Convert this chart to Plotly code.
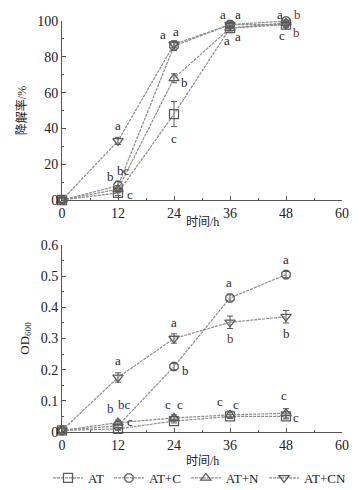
import plotly.graph_objects as go

hours = [0, 12, 24, 36, 48]
series = ["AT", "AT+C", "AT+N", "AT+CN"]
symbols = ["square-open", "octagon-open", "triangle-up-open", "triangle-down-open"]

# degradation rate (%)
deg = {
    "AT":    [0, 4, 48, 96, 98],
    "AT+C":  [0, 8, 86, 98, 100],
    "AT+N":  [0, 6, 68, 96, 99],
    "AT+CN": [0, 33, 87, 98, 98],
}
deg_err = {
    "AT":    [0.5, 1.5, 7, 1.5, 1.5],
    "AT+C":  [0.5, 2.5, 2.5, 1.5, 1.5],
    "AT+N":  [0.5, 2, 2.5, 1.5, 1.5],
    "AT+CN": [0.5, 2, 2, 1.5, 1.5],
}
# OD600
od = {
    "AT":    [0.005, 0.01, 0.035, 0.05, 0.05],
    "AT+C":  [0.005, 0.02, 0.21, 0.43, 0.505],
    "AT+N":  [0.005, 0.03, 0.045, 0.055, 0.06],
    "AT+CN": [0.005, 0.175, 0.30, 0.352, 0.37],
}
od_err = {
    "AT":    [0.003, 0.004, 0.006, 0.006, 0.008],
    "AT+C":  [0.003, 0.006, 0.01, 0.01, 0.01],
    "AT+N":  [0.003, 0.008, 0.01, 0.012, 0.015],
    "AT+CN": [0.003, 0.015, 0.015, 0.02, 0.02],
}

font_fam = "Liberation Serif, Times New Roman, Tinos, DejaVu Serif, serif"
cjk_fam = "Liberation Serif, Noto Sans CJK SC"
line_col = "#8c8c8c"
mk_col = "#5a5a5a"
dark = "#1e1e2e"
red = "#7a2a12"
blue = "#1f2f7a"

fig = go.Figure()
for i, s in enumerate(series):
    common = dict(
        mode="lines+markers",
        line=dict(color=line_col, width=1.2, dash="3px,1px"),
        marker=dict(symbol=symbols[i], size=9, color=mk_col, line=dict(width=1.3, color=mk_col)),
        cliponaxis=False,
    )
    fig.add_trace(go.Scatter(x=hours, y=deg[s], name=s, showlegend=True, legendgroup=s,
                             error_y=dict(type="data", array=deg_err[s], color=mk_col, thickness=1, width=3),
                             xaxis="x", yaxis="y", **common))
    fig.add_trace(go.Scatter(x=hours, y=od[s], name=s, showlegend=False, legendgroup=s,
                             error_y=dict(type="data", array=od_err[s], color=mk_col, thickness=1, width=3),
                             xaxis="x2", yaxis="y2", **common))

# significance letters: (x, y, text, color, xshift, yshift, axes)
letters = [
    (12, 33, "a", dark, 0, 15, 1), (12, 6, "b", dark, -8, 13, 1), (12, 8, "bc", dark, 5, 15, 1), (12, 4, "c", dark, 12, -2, 1),
    (24, 87, "a", dark, -11, 10, 1), (24, 87, "a", dark, 2, 13, 1), (24, 68, "b", dark, 10, -4, 1), (24, 48, "c", dark, 0, -24, 1),
    (36, 98, "a", dark, -7, 10, 1), (36, 98, "a", dark, 8, 10, 1), (36, 96, "a", dark, -3, -12, 1), (36, 96, "a", dark, 8, -8, 1),
    (48, 100, "a", dark, -6, 7, 1), (48, 100, "b", red, 11, 7, 1), (48, 98, "c", dark, -4, -11, 1), (48, 98, "b", red, 10, -8, 1),
    (12, 0.175, "a", dark, 0, 17, 2), (12, 0.03, "b", blue, -8, 14, 2), (12, 0.03, "bc", blue, 6, 18, 2), (12, 0.02, "c", dark, 12, 4, 2),
    (24, 0.30, "a", dark, 0, 16, 2), (24, 0.21, "b", dark, 11, -4, 2), (24, 0.045, "c", dark, -6, 13, 2), (24, 0.045, "c", dark, 6, 13, 2),
    (36, 0.43, "a", dark, -1, 15, 2), (36, 0.352, "b", red, 0, -16, 2), (36, 0.055, "c", dark, -10, 13, 2), (36, 0.055, "c", dark, 6, 10, 2),
    (48, 0.505, "a", dark, 0, 15, 2), (48, 0.37, "b", dark, 0, -17, 2), (48, 0.06, "c", dark, -2, 18, 2), (48, 0.05, "c", dark, 10, -1, 2),
]
ann = []
for x, y, t, c, xs, ys, ax in letters:
    ann.append(dict(x=x, y=y, xref="x" if ax == 1 else "x2", yref="y" if ax == 1 else "y2",
                    text=t, showarrow=False, xshift=xs, yshift=ys,
                    font=dict(family=font_fam, size=13, color=c)))

# page body has an 8px margin: lay out in reference pixels shifted by OFF
OFF = 8
W, H = 359 - OFF, 490 - OFF
ML, MR, MT, MB = 62 - OFF, 17, 21 - OFF, 58
PW = W - ML - MR
PH = H - MT - MB

def py(pix):
    return (H - MB - (pix - OFF)) / PH

def px(pix):
    return (pix - OFF - ML) / PW

# x axis titles
for yy in (222, 461):
    ann.append(dict(x=0.5, y=py(yy), xref="paper", yref="paper", text="时间/h", showarrow=False,
                    yanchor="middle", font=dict(family=cjk_fam, size=12, color="#222")))

axis_common = dict(showline=True, linecolor="#555", linewidth=1, ticks="inside", ticklen=4,
                   tickcolor="#555", showgrid=False, zeroline=False, automargin=False,
                   tickfont=dict(family=font_fam, size=14, color="#222"))

fig.update_layout(
    width=W, height=H,
    margin=dict(l=ML, r=MR, t=MT, b=MB, autoexpand=False),
    paper_bgcolor="white", plot_bgcolor="white",
    font=dict(family=font_fam, color="#222"),
    xaxis=dict(domain=[0, 1], range=[0, 60], dtick=12, anchor="y",
               minor=dict(dtick=6, ticks="inside", ticklen=2, tickcolor="#555"), **axis_common),
    yaxis=dict(domain=[py(200), 1], range=[0, 100], dtick=20, anchor="x",
               minor=dict(dtick=10, ticks="inside", ticklen=2, tickcolor="#555"),
               title=dict(text="降解率/%", font=dict(family=cjk_fam, size=12), standoff=8), **axis_common),
    xaxis2=dict(domain=[0, 1], range=[0, 60], dtick=12, anchor="y2",
                minor=dict(dtick=6, ticks="inside", ticklen=2, tickcolor="#555"), **axis_common),
    yaxis2=dict(domain=[0, py(245)], range=[0, 0.6], dtick=0.1, anchor="x2",
                minor=dict(dtick=0.05, ticks="inside", ticklen=2, tickcolor="#555"),
                title=dict(text="OD<sub>600</sub>", font=dict(family=font_fam, size=13), standoff=8), **axis_common),
    legend=dict(orientation="h", x=px(48), xanchor="left", xref="paper",
                y=py(478), yanchor="middle", yref="paper",
                font=dict(family=font_fam, size=13, color="#222"), itemwidth=30, tracegroupgap=0,
                bgcolor="rgba(0,0,0,0)"),
    annotations=ann,
    showlegend=True,
)

fig.write_html("out.html")
